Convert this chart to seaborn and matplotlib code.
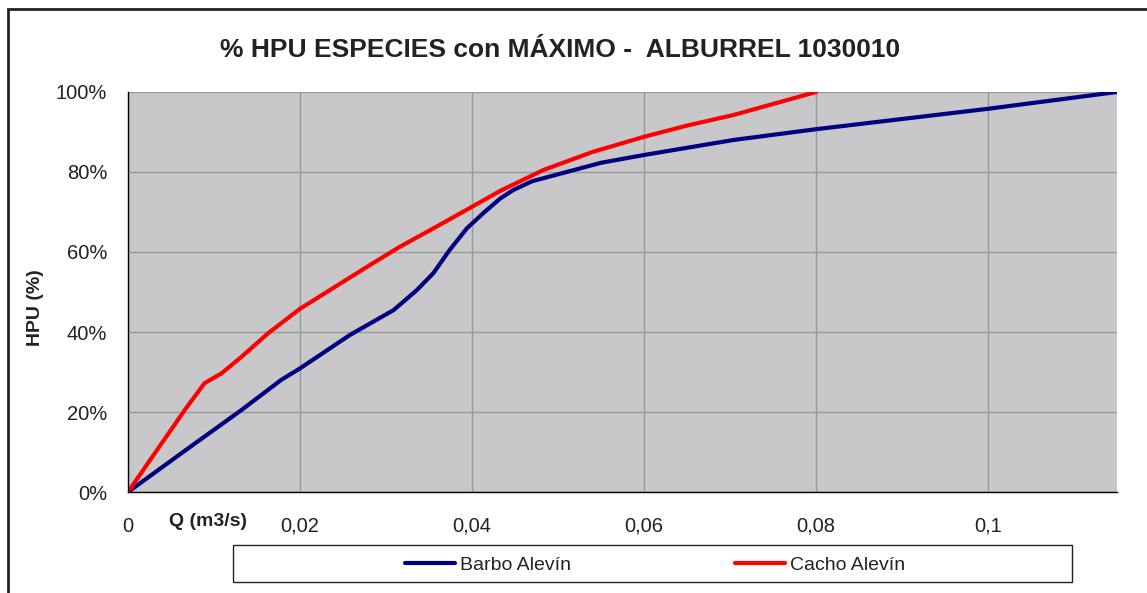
import numpy as np
import pandas as pd
import matplotlib
matplotlib.use("Agg")
import matplotlib.pyplot as plt
import seaborn as sns
from matplotlib.patches import Rectangle
from matplotlib.ticker import FuncFormatter

# %%
sns.set_style("white")
plt.rcParams['font.family'] = ['Liberation Sans', 'DejaVu Sans']

# %%
# Data (Q in m3/s, HPU in %)
q_barbo = [0, 0.0066, 0.0132, 0.0178, 0.02, 0.0258, 0.0309, 0.0336, 0.0355,
           0.0374, 0.0394, 0.0413, 0.0433, 0.0448, 0.047, 0.051, 0.055,
           0.06, 0.0704, 0.08, 0.1, 0.115]
hpu_barbo = [0, 10.3, 20.5, 28, 30.9, 39.25, 45.5, 50.5, 54.7,
             60.5, 65.9, 69.7, 73.4, 75.5, 77.7, 80, 82.3,
             84.25, 88, 90.7, 95.8, 100]

q_cacho = [0, 0.0066, 0.0089, 0.0109, 0.0132, 0.0163, 0.02, 0.0278, 0.0316,
           0.0355, 0.04, 0.0433, 0.0483, 0.054, 0.06, 0.065, 0.0704, 0.08]
hpu_cacho = [0, 20.5, 27.2, 29.7, 33.8, 39.7, 45.8, 56.3, 61.3,
             65.9, 71.3, 75.3, 80.5, 85, 88.8, 91.6, 94.25, 100]

series_names = ["Barbo Alevín", "Cacho Alevín"]
series_colors = ["#000080", "#FF0000"]

df = pd.concat([
    pd.DataFrame({"Q": q_barbo, "HPU": hpu_barbo, "serie": series_names[0]}),
    pd.DataFrame({"Q": q_cacho, "HPU": hpu_cacho, "serie": series_names[1]}),
])

# %%
fig = plt.figure(figsize=(11.47, 5.93), dpi=100)
ax = fig.add_axes([128/1147, 1 - 492/593, (1117-128)/1147, 400/593])
ax.set_facecolor("#C8C8CA")

sns.lineplot(data=df, x="Q", y="HPU", hue="serie", palette=series_colors,
             sort=False, linewidth=3, ax=ax, legend=False)
for line in ax.lines:
    line.set_solid_joinstyle("round")

ax.set_xlim(0, 0.115)
ax.set_ylim(0, 100)
ax.set_xticks([0, 0.02, 0.04, 0.06, 0.08, 0.1])
ax.set_yticks([0, 20, 40, 60, 80, 100])
ax.xaxis.set_major_formatter(FuncFormatter(
    lambda v, p: "0" if v == 0 else f"{v:g}".replace(".", ",")))
ax.yaxis.set_major_formatter(FuncFormatter(lambda v, p: f"{v:.0f}%"))
ax.grid(True, color="#999999", linewidth=1)
ax.set_axisbelow(True)
for s in ["top", "right"]:
    ax.spines[s].set_visible(False)
for s in ["left", "bottom"]:
    ax.spines[s].set_color("black")
    ax.spines[s].set_linewidth(1)
ax.tick_params(axis="both", direction="out", length=5, width=1, color="black",
               labelsize=14.5, labelcolor="#222222")
ax.tick_params(axis="x", pad=13)
ax.tick_params(axis="y", pad=10)
ax.set_xlabel("")
ax.set_ylabel("")

# Titles and axis labels
fig.text(560/1147, 1 - 50/593, "% HPU ESPECIES con MÁXIMO -  ALBURREL 1030010",
         ha="center", va="center", fontsize=19, fontweight="bold", color="#222222")
fig.text(35/1147, 1 - 308/593, "HPU (%)", rotation=90, ha="center", va="center",
         fontsize=14, fontweight="bold", color="#222222")
fig.text(208/1147, 1 - 521/593, "Q (m3/s)", ha="center", va="center",
         fontsize=14, fontweight="bold", color="#222222")

# Outer chart border (left and top visible)
fig.patches.append(Rectangle((8/1147, -0.05), 1.2, 1 - 9/593 + 0.05,
                             transform=fig.transFigure, fill=False,
                             edgecolor="#222222", linewidth=2))

# Legend box
fig.patches.append(Rectangle((233/1147, 1 - 582/593), 839/1147, 37/593,
                             transform=fig.transFigure, fill=False,
                             edgecolor="#222222", linewidth=1))
handles = [plt.Line2D([], [], color=c, linewidth=3) for c in series_colors]
fig.legend(handles, series_names, loc="center",
           bbox_to_anchor=(655/1147, 1 - 565/593), ncol=2, frameon=False,
           fontsize=14, handlelength=2.6, handletextpad=0.25,
           columnspacing=8.4, labelcolor="#222222")

fig.savefig("out.png", dpi=100)
